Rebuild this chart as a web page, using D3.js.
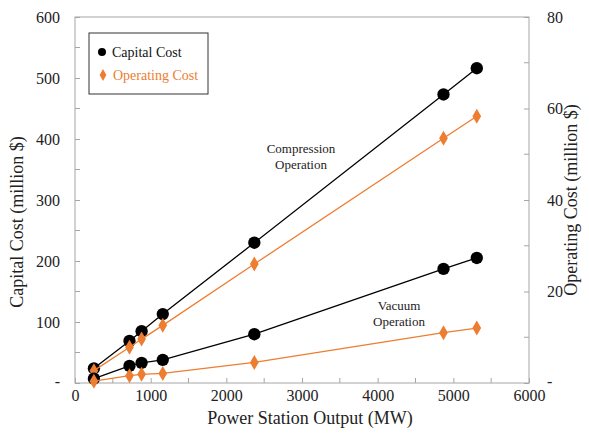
<!DOCTYPE html>
<html>
<head>
<meta charset="utf-8">
<script src="https://cdn.jsdelivr.net/npm/d3@7"></script>
<style>
  body { margin: 0; background: #fff; }
  svg text { font-family: "Liberation Serif", serif !important; }
</style>
</head>
<body>
<div id="container"></div>
<script>
// power station output (MW)
const output = [250, 720, 880, 1160, 2370, 4870, 5310];
// capital cost, million $ (left axis)
const capCompression = [24, 69, 85, 113, 230, 473, 516];
const capVacuum = [7, 28, 33, 38, 80, 187, 205];
// operating cost, million $ (right axis)
const opCompression = [2.7, 7.8, 9.6, 12.6, 26, 53.5, 58.3];
const opVacuum = [0.4, 1.6, 1.9, 2.1, 4.5, 11.0, 12.0];

const xTicks = [0, 1000, 2000, 3000, 4000, 5000, 6000];
const leftTicks = [0, 100, 200, 300, 400, 500, 600];
const rightTicks = [0, 20, 40, 60, 80];

const ORANGE = '#ED7D31';
const width = 589, height = 435;
const m = { left: 75, right: 60, top: 17, bottom: 52 };

const svg = d3.select('#container').append('svg')
    .attr('width', width).attr('height', height)
    .attr('font-family', '"Liberation Serif", serif');

const x = d3.scaleLinear().domain([0, 6000]).range([m.left, width - m.right]);
const yL = d3.scaleLinear().domain([0, 600]).range([height - m.bottom, m.top]);
const yR = d3.scaleLinear().domain([0, 80]).range([height - m.bottom, m.top]);

// plot frame
svg.append('rect')
    .attr('x', x(0)).attr('y', yL(600))
    .attr('width', x(6000) - x(0)).attr('height', yL(0) - yL(600))
    .attr('fill', 'none').attr('stroke', '#a6a6a6').attr('stroke-width', 1);

const zeroDash = v => v === 0 ? '-' : v;

// minor tick marks (no labels), drawn inside the frame
const minor = svg.append('g').attr('stroke', '#a6a6a6');
d3.range(500, 6000, 1000).forEach(v => minor.append('line')
    .attr('x1', x(v)).attr('x2', x(v)).attr('y1', yL(0)).attr('y2', yL(0) - 5));
d3.range(50, 600, 100).forEach(v => minor.append('line')
    .attr('x1', x(0)).attr('x2', x(0) + 5).attr('y1', yL(v)).attr('y2', yL(v)));
d3.range(10, 80, 20).forEach(v => minor.append('line')
    .attr('x1', x(6000)).attr('x2', x(6000) - 5).attr('y1', yR(v)).attr('y2', yR(v)));

// bottom axis
const gx = svg.append('g').attr('transform', `translate(0,${yL(0)})`)
    .call(d3.axisBottom(x).tickValues(xTicks).tickSizeInner(-5).tickSizeOuter(0).tickFormat(d3.format('d')));
// left axis
const gl = svg.append('g').attr('transform', `translate(${x(0)},0)`)
    .call(d3.axisLeft(yL).tickValues(leftTicks).tickSizeInner(-5).tickSizeOuter(0).tickFormat(zeroDash));
// right axis
const gr = svg.append('g').attr('transform', `translate(${x(6000)},0)`)
    .call(d3.axisRight(yR).tickValues(rightTicks).tickSizeInner(-5).tickSizeOuter(0).tickFormat(zeroDash));

[gx, gl, gr].forEach(g => {
  g.attr('font-family', '"Liberation Serif", serif');
  g.select('.domain').remove();
  g.selectAll('line').attr('stroke', '#a6a6a6');
  g.selectAll('text').attr('font-size', 16).attr('fill', '#222');
});
gx.selectAll('text').attr('dy', '0.95em');
gl.selectAll('text').attr('x', -15);
gr.selectAll('text').attr('x', 18);
gr.selectAll('text').filter(d => d === 0).attr('dy', '0.2em');
gl.selectAll('text').filter(d => d === 0).attr('dy', '0.2em');

// axis titles
svg.append('text').attr('x', 310).attr('y', 424).attr('text-anchor', 'middle')
    .attr('font-size', 18).attr('fill', '#222').text('Power Station Output (MW)');
svg.append('text').attr('transform', 'translate(23,222) rotate(-90)').attr('text-anchor', 'middle')
    .attr('font-size', 18).attr('fill', '#222').text('Capital Cost (million $)');
svg.append('text').attr('transform', 'translate(577,200) rotate(-90)').attr('text-anchor', 'middle')
    .attr('font-size', 18).attr('fill', '#222').text('Operating Cost (million $)');

// series
const series = [
  { vals: capCompression, y: yL, color: '#000', shape: d3.symbolCircle, size: 120 },
  { vals: opCompression, y: yR, color: ORANGE, shape: d3.symbolDiamond, size: 65 },
  { vals: capVacuum, y: yL, color: '#000', shape: d3.symbolCircle, size: 120 },
  { vals: opVacuum, y: yR, color: ORANGE, shape: d3.symbolDiamond, size: 65 }
];

series.forEach(s => {
  const pts = output.map((o, i) => [o, s.vals[i]]);
  svg.append('path')
      .attr('d', d3.line().x(d => x(d[0])).y(d => s.y(d[1]))(pts))
      .attr('fill', 'none').attr('stroke', s.color).attr('stroke-width', 1.3);
  svg.append('g').selectAll('path').data(pts).enter().append('path')
      .attr('transform', d => `translate(${x(d[0])},${s.y(d[1])})`)
      .attr('d', d3.symbol().type(s.shape).size(s.size))
      .attr('fill', s.color);
});

// annotations
const ann = svg.append('g').attr('font-size', 13).attr('fill', '#222').attr('text-anchor', 'middle');
ann.append('text').attr('x', 301).attr('y', 153).text('Compression');
ann.append('text').attr('x', 301).attr('y', 169).text('Operation');
ann.append('text').attr('x', 399).attr('y', 310).text('Vacuum');
ann.append('text').attr('x', 399).attr('y', 326).text('Operation');

// legend
const lg = svg.append('g');
lg.append('rect').attr('x', 89).attr('y', 33).attr('width', 119).attr('height', 61)
    .attr('fill', '#fff').attr('stroke', '#333').attr('stroke-width', 1);
lg.append('path').attr('transform', 'translate(102,52)')
    .attr('d', d3.symbol().type(d3.symbolCircle).size(50)).attr('fill', '#000');
lg.append('path').attr('transform', 'translate(103,75)')
    .attr('d', d3.symbol().type(d3.symbolDiamond).size(40)).attr('fill', ORANGE);
lg.append('text').attr('x', 112).attr('y', 57).attr('font-size', 14).attr('fill', '#111').text('Capital Cost');
lg.append('text').attr('x', 113).attr('y', 80).attr('font-size', 14).attr('fill', ORANGE).text('Operating Cost');
</script>
</body>
</html>
